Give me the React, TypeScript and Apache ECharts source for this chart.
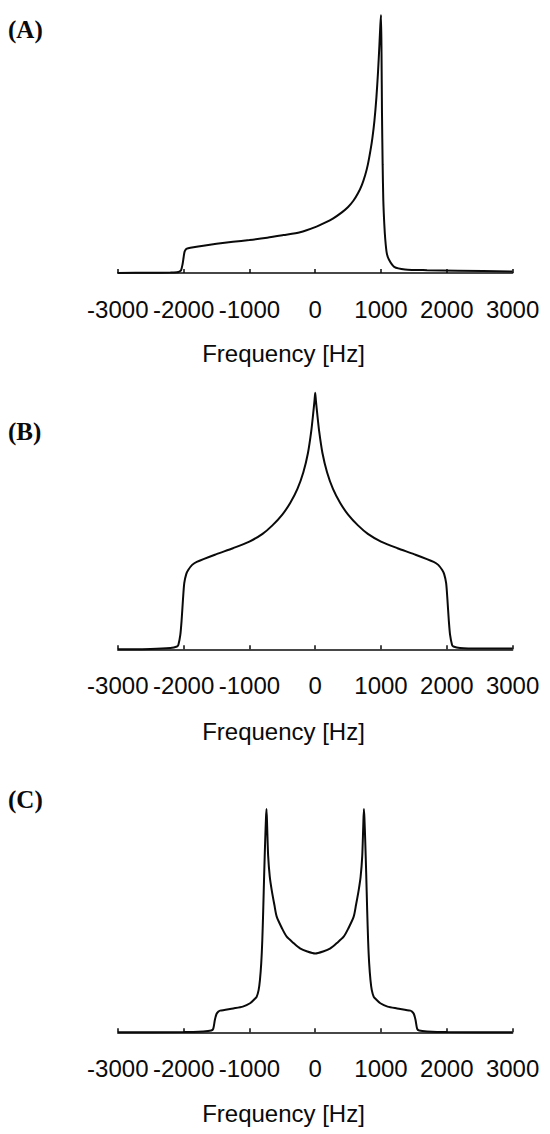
import React, { useEffect, useRef } from "react";
import * as echarts from "echarts";

// Frequency axis ticks (Hz)
const tickValues = [-3000, -2000, -1000, 0, 1000, 2000, 3000];
const axisTitle = "Frequency [Hz]";
const panelLabels = ["(A)", "(B)", "(C)"];

// Panel A: axially asymmetric powder pattern
const freqA = [
  -3000, -2500, -2200, -2100, -2080, -2040, -2015, -2000, -1985, -1960, -1930,
  -1850, -1700, -1500, -1250, -1000, -730, -485, -230, 20, 150, 275, 400, 500,
  580, 650, 710, 760, 800, 840, 870, 900, 930, 955, 975, 990, 1000, 1008, 1015,
  1025, 1035, 1050, 1065, 1087, 1120, 1200, 1365, 1700, 2170, 3000,
];
const intA = [
  0, 0.1, 0.2, 0.3, 0.4, 1.0, 3.5, 6.0, 8.3, 9.3, 9.6,
  10.0, 10.6, 11.3, 12.1, 12.8, 13.7, 14.7, 15.8, 18.0, 19.5, 21.2, 23.4, 25.6,
  28.0, 30.9, 34.2, 38.0, 42.0, 47.5, 52.5, 59.0, 68.0, 78.0, 88.0, 96.0, 100, 85, 62,
  42, 28.3, 19, 13, 7.8, 5.2, 2.4, 1.4, 1.1, 0.9, 0.6,
];

// Panel B: symmetric pattern with central cusp
const freqB = [
  -3000, -2500, -2200, -2100, -2080, -2050, -2030, -2010, -1990, -1960, -1930,
  -1870, -1800, -1500, -1250, -1000, -800, -650, -500, -380, -270, -180, -110,
  -60, -30, -12, 0, 12, 30, 60, 110, 180, 270, 380, 500, 650, 800, 1000, 1250,
  1500, 1800, 1870, 1930, 1960, 1990, 2010, 2030, 2050, 2080, 2100, 2200, 2500,
  3000,
];
const intB = [
  0, 0.1, 0.5, 1.1, 1.7, 5.6, 11.4, 19.2, 25.8, 29.3, 30.9,
  32.9, 34.1, 37.1, 39.4, 42.0, 45.0, 48.3, 52.5, 57.0, 62.5, 69.0, 76.5,
  85.0, 92.0, 96.5, 100, 96.5, 92.0, 85.0, 76.5, 69.0, 62.5, 57.0, 52.5, 48.3, 45.0, 42.0, 39.4,
  37.1, 34.1, 32.9, 30.9, 29.3, 25.8, 19.2, 11.4, 5.6, 1.7, 1.1, 0.5, 0.3,
  0.3,
];

// Panel C: two horns with shoulders
const freqC = [
  -3000, -2000, -1700, -1580, -1550, -1525, -1500, -1470, -1447, -1245, -1100,
  -990, -920, -890, -860, -840, -820, -804, -790, -775, -760, -748, -740, -730,
  -715, -690, -661, -620, -585, -500, -433, -330, -231, -120, 0, 120, 231, 330,
  433, 500, 585, 620, 661, 690, 715, 730, 740, 748, 760, 775, 790, 804, 820, 840,
  860, 890, 920, 990, 1100, 1245, 1447, 1470, 1500, 1525, 1550, 1580, 1700, 2000,
  3000,
];
const intC = [
  0, 0.1, 0.4, 0.8, 1.5, 5.5, 8.2, 9.3, 9.7, 10.7, 11.5,
  13.0, 14.9, 15.9, 18.9, 23.4, 31.0, 41.2, 54.6, 71.2, 86.0, 96.0, 100, 92.0,
  79.0, 69.6, 63.7, 57.0, 51.8, 46.3, 42.8, 40.0, 37.6, 36.2, 35.3, 36.2, 37.6, 40.0,
  42.8, 46.3, 51.8, 57.0, 63.7, 69.6, 79.0, 92.0, 100, 96.0, 86.0, 71.2, 54.6, 41.2, 31.0, 23.4,
  18.9, 15.9, 14.9, 13.0, 11.5, 10.7, 9.7, 9.3, 8.2, 5.5, 1.5, 0.8, 0.4, 0.1,
  0,
];

const panels = [
  { freq: freqA, inten: intA, top: 15, height: 258, offset: 21.5, labelY: 30, titleY: 353 },
  { freq: freqB, inten: intB, top: 392.7, height: 256.6, offset: 20.7, labelY: 432, titleY: 731 },
  { freq: freqC, inten: intC, top: 809, height: 223.3, offset: 21, labelY: 800, titleY: 1113 },
];

const INK = "#0a0a0a";
const SANS = "'Liberation Sans', Arial, Helvetica, sans-serif";
const SERIF = "'Liberation Serif', 'Times New Roman', serif";

export default function App() {
  const ref = useRef<HTMLDivElement>(null);

  useEffect(() => {
    document.body.style.margin = "0";
    if (!ref.current) return;
    const chart = echarts.init(ref.current, null, { renderer: "svg" });

    const grid = panels.map((p) => ({
      left: 117.8,
      right: 37.4,
      top: p.top,
      height: p.height,
    }));

    const xAxis = panels.map((p, i) => ({
      type: "value",
      gridIndex: i,
      min: tickValues[0],
      max: tickValues[tickValues.length - 1],
      interval: 1000,
      offset: p.offset,
      axisLine: { show: true, lineStyle: { color: INK, width: 1.6 } },
      axisTick: { show: true, inside: true, length: 4, lineStyle: { color: INK, width: 1.5 } },
      splitLine: { show: false },
      axisLabel: {
        show: true,
        margin: 3,
        color: INK,
        fontSize: 24,
        fontFamily: SANS,
        formatter: (v: number) => String(v),
      },
    }));

    const yAxis = panels.map((_, i) => ({
      type: "value",
      gridIndex: i,
      min: 0,
      max: 100,
      show: false,
    }));

    const series = panels.map((p, i) => ({
      type: "line",
      xAxisIndex: i,
      yAxisIndex: i,
      data: p.freq.map((f, k) => [f, p.inten[k]]),
      showSymbol: false,
      smooth: 0.25,
      clip: false,
      lineStyle: { color: INK, width: 2 },
    }));

    const graphic: any[] = [];
    panels.forEach((p, i) => {
      graphic.push({
        type: "text",
        left: 8,
        top: p.labelY - 13,
        style: {
          text: panelLabels[i],
          font: `bold 25px ${SERIF}`,
          fill: INK,
        },
      });
      graphic.push({
        type: "text",
        x: 283.5,
        y: p.titleY,
        style: {
          text: axisTitle,
          font: `24px ${SANS}`,
          fill: INK,
          align: "center",
          verticalAlign: "middle",
        },
      });
    });

    chart.setOption({
      animation: false,
      backgroundColor: "#ffffff",
      grid,
      xAxis,
      yAxis,
      series,
      graphic,
    });

    return () => chart.dispose();
  }, []);

  return <div ref={ref} style={{ width: 550, height: 1134 }} />;
}
